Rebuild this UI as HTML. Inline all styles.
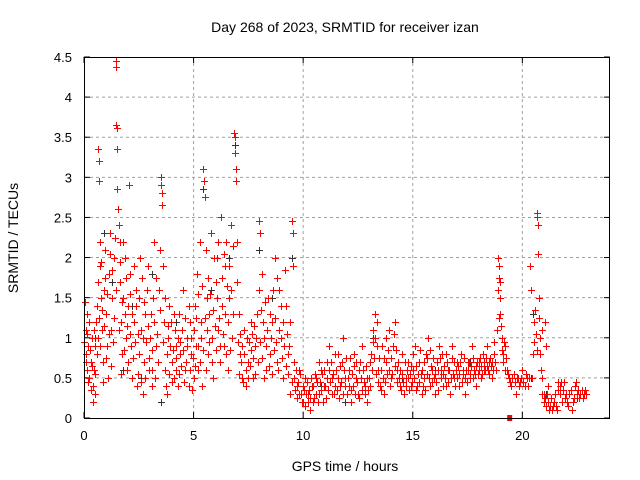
<!DOCTYPE html>
<html><head><meta charset="utf-8"><style>
body{margin:0;background:#fff;}
svg{display:block;font-family:"Liberation Sans",sans-serif;}
</style></head><body>
<svg id="chart" width="640" height="480"></svg>
<script>
const xTicks=[0,5,10,15,20];
const yTicks=[0,0.5,1,1.5,2,2.5,3,3.5,4,4.5];
const yTickLabels=["0","0.5","1","1.5","2","2.5","3","3.5","4","4.5"];
const redSamples=[
[0.05,1.45],[0.08,1.1],[0.1,0.8],[0.12,0.6],[0.15,1.3],[0.2,0.9],[0.25,0.5],[0.3,0.7],[0.35,1.0],[0.4,0.4],[0.42,0.2],[0.45,0.6],[0.5,0.9],[0.55,1.2],[0.6,0.8],
[0.65,3.35],[0.68,3.2],[0.7,2.95],[0.72,2.2],[0.75,1.9],[0.78,1.5],[0.8,1.1],[0.85,0.7],[0.9,1.6],[0.95,2.1],[1.0,1.3],[1.05,0.9],[1.1,0.5],[1.15,1.8],[1.2,2.3],[1.25,1.1],[1.3,1.5],[1.35,2.0],
[1.45,4.45],[1.47,4.38],[1.48,3.65],[1.5,3.62],[1.52,3.35],[1.5,2.85],[1.55,2.6],[1.6,2.4],[1.62,2.2],[1.65,1.7],[1.7,1.2],[1.75,0.8],[1.8,1.5],[1.85,2.0],[1.9,1.0],[1.95,0.6],[2.0,1.4],
[2.05,2.9],[2.1,1.8],[2.15,0.9],[2.2,0.5],[2.3,1.2],[2.35,1.6],[2.4,0.4],[2.5,0.8],[2.55,2.0],[2.6,1.1],[2.7,0.3],[2.75,0.7],[2.8,1.3],[2.9,1.9],[2.95,0.6],[3.0,1.0],[3.1,0.4],[3.15,1.5],[3.2,2.2],[3.3,0.9],[3.4,1.6],
[3.5,3.0],[3.52,2.9],[3.55,2.8],[3.58,2.65],[3.6,1.9],[3.65,1.2],[3.7,0.6],[3.8,0.3],[3.85,1.0],[3.9,1.4],[4.0,0.7],[4.1,0.5],[4.15,1.1],[4.2,0.9],[4.3,0.4],[4.35,1.3],[4.4,0.8],[4.5,1.6],[4.6,0.6],[4.7,1.0],[4.8,0.4],[4.85,1.2],[4.9,0.8],[5.0,0.5],[5.05,1.4],[5.1,0.9],[5.15,1.8],[5.2,0.6],[5.3,2.2],[5.35,1.2],[5.4,0.4],
[5.45,3.1],[5.48,2.95],[5.5,2.75],[5.55,2.1],[5.6,1.5],[5.65,0.8],[5.7,1.3],[5.8,2.3],[5.85,1.0],[5.9,0.5],[6.0,1.7],[6.05,2.0],[6.1,1.1],[6.2,0.7],[6.25,2.5],[6.3,1.4],[6.4,0.9],[6.45,1.9],[6.5,2.2],[6.55,0.6],[6.6,1.5],[6.7,2.4],[6.75,1.0],
[6.85,3.55],[6.88,3.5],[6.9,3.3],[6.92,3.1],[6.95,2.95],[7.0,2.2],[7.05,1.3],[7.1,0.8],[7.2,0.5],[7.3,1.1],[7.4,0.4],[7.5,0.7],[7.6,1.2],[7.7,0.5],[7.8,0.9],[7.9,1.3],
[8.0,2.45],[8.05,2.3],[8.1,1.8],[8.2,1.0],[8.3,0.6],[8.4,1.5],[8.5,0.8],[8.6,1.2],[8.7,2.0],[8.8,0.7],[8.9,1.6],[9.0,1.0],[9.1,0.5],[9.2,1.4],[9.3,0.8],[9.4,0.3],
[9.5,2.45],[9.52,2.3],[9.55,1.9],[9.6,0.7],[9.7,0.4],[9.8,0.6],[9.9,0.3],[10.0,0.2],[10.1,0.5],[10.2,0.3],[10.3,0.1],[10.4,0.4],[10.5,0.25],[10.6,0.5],[10.7,0.3],[10.8,0.6],[10.9,0.2],
[11.0,0.4],[11.1,0.7],[11.2,0.9],[11.3,0.5],[11.4,0.3],[11.5,0.6],[11.6,0.8],[11.7,0.4],[11.8,1.0],[11.9,0.5],[12.0,0.3],[12.1,0.6],[12.2,0.2],[12.3,0.8],[12.4,0.5],[12.5,0.3],[12.6,0.7],[12.7,0.9],[12.8,0.4],[12.9,0.2],
[13.0,0.5],[13.1,0.8],[13.2,1.1],[13.3,1.3],[13.35,1.2],[13.4,0.6],[13.5,0.4],[13.6,0.9],[13.7,0.3],[13.8,0.7],[13.9,1.1],[14.0,0.5],[14.1,0.9],[14.2,1.2],[14.3,0.6],[14.4,0.4],[14.5,0.8],[14.6,0.3],[14.7,0.5],[14.8,0.7],[14.9,0.4],
[15.0,0.6],[15.1,0.9],[15.2,0.4],[15.3,0.7],[15.4,0.3],[15.5,0.5],[15.6,0.8],[15.7,1.0],[15.8,0.4],[15.9,0.6],[16.0,0.3],[16.1,0.7],[16.2,0.9],[16.3,0.5],[16.4,0.4],[16.5,0.8],[16.6,0.6],[16.7,0.3],[16.8,0.9],[16.9,0.5],
[17.0,0.7],[17.1,0.4],[17.2,0.8],[17.3,0.6],[17.4,0.3],[17.5,0.7],[17.6,0.5],[17.7,0.9],[17.8,0.6],[17.9,0.4],[18.0,0.7],[18.1,0.5],[18.2,0.8],[18.3,0.6],[18.4,0.9],[18.5,0.7],[18.6,0.5],[18.7,0.8],[18.8,0.6],
[18.9,2.0],[18.92,1.9],[18.95,1.75],[18.97,1.5],[19.0,1.3],[19.05,1.0],[19.1,0.8],[19.2,0.9],[19.3,0.6],[19.4,0.5],[19.5,0.4],[19.6,0.55],[19.7,0.3],[19.8,0.5],[19.9,0.45],[20.0,0.6],[20.1,0.4],[20.2,0.5],
[20.35,1.9],[20.4,1.6],[20.5,0.8],[20.55,1.2],[20.65,2.55],[20.67,2.5],[20.7,2.4],[20.72,2.05],[20.75,1.5],[20.8,1.0],[20.85,0.6],[20.9,0.3],[21.0,0.2],[21.05,1.2],[21.1,0.9],[21.15,0.4],[21.2,0.1],
[21.3,0.25],[21.4,0.15],[21.5,0.3],[21.6,0.1],[21.7,0.4],[21.8,0.2],[21.9,0.45],[22.0,0.3],[22.1,0.15],[22.2,0.35],[22.3,0.2],[22.4,0.4],[22.5,0.3],[22.6,0.25],[22.7,0.35],[22.8,0.3]
];
const redSamplesExtra=[
[0.02,0.95],[0.07,0.7],[0.14,1.05],[0.18,0.45],[0.22,1.2],[0.28,0.85],[0.33,0.35],[0.38,0.65],[0.44,1.1],[0.48,0.3],[0.52,0.55],[0.58,1.4],[0.62,1.0],[0.66,1.7],[0.7,1.25],[0.74,0.9],[0.78,1.95],[0.83,1.35],[0.87,0.45],[0.92,1.15],[0.97,1.75],[1.02,0.75],[1.07,1.55],[1.12,1.05],[1.18,2.05],[1.22,0.65],[1.28,1.85],[1.33,0.95],[1.38,1.25],[1.42,2.25],[1.44,1.6],
[1.58,1.1],[1.63,1.95],[1.68,0.55],[1.72,1.45],[1.78,2.2],[1.83,0.85],[1.88,1.3],[1.92,1.75],[1.97,1.15],[2.02,0.7],[2.08,1.05],[2.12,1.55],[2.18,1.3],[2.25,0.75],[2.28,1.9],[2.33,0.95],[2.38,1.4],[2.45,1.05],[2.48,0.55],[2.52,1.5],[2.58,0.45],[2.63,1.75],[2.68,1.0],[2.72,1.45],[2.78,0.5],[2.83,0.95],[2.87,1.6],[2.93,1.15],[2.98,0.75],[3.05,1.3],[3.08,0.6],[3.12,0.85],[3.18,1.2],[3.25,0.5],[3.28,1.75],[3.35,1.05],[3.38,0.7],[3.45,1.35],[3.48,2.1],
[3.62,0.95],[3.68,1.5],[3.72,0.4],[3.77,0.8],[3.82,1.15],[3.88,0.55],[3.93,0.9],[3.97,1.2],[4.03,0.45],[4.07,0.85],[4.12,1.3],[4.18,0.6],[4.22,0.75],[4.27,1.0],[4.32,0.55],[4.38,0.95],[4.42,0.65],[4.47,1.1],[4.52,0.85],[4.57,0.45],[4.62,1.25],[4.67,0.7],[4.72,0.9],[4.77,1.4],[4.82,0.6],[4.88,1.0],[4.93,0.35],[4.97,0.75],
[5.02,1.1],[5.08,0.65],[5.12,1.25],[5.18,0.9],[5.22,1.55],[5.27,0.7],[5.32,1.0],[5.38,1.65],[5.42,0.85],[5.52,1.25],[5.58,0.6],[5.62,1.1],[5.68,1.75],[5.72,0.95],[5.77,1.55],[5.82,0.7],[5.88,1.35],[5.93,2.0],[5.97,1.15],[6.02,0.85],[6.08,1.5],[6.12,2.2],[6.17,1.25],[6.22,0.9],[6.28,1.75],[6.33,1.05],[6.37,2.05],[6.42,1.3],[6.48,0.8],[6.52,1.65],[6.58,1.2],[6.62,1.9],[6.68,0.85],[6.72,1.6],[6.78,2.15],[6.82,1.3],
[6.97,1.7],[7.02,0.95],[7.07,0.55],[7.12,1.05],[7.17,0.7],[7.22,0.9],[7.27,0.45],[7.32,0.8],[7.37,0.6],[7.42,1.0],[7.47,0.5],[7.52,0.95],[7.57,0.65],[7.62,0.85],[7.67,1.05],[7.72,0.75],[7.77,1.15],[7.82,0.55],[7.87,1.0],[7.92,0.7],[7.97,1.6],
[8.02,0.95],[8.07,1.35],[8.12,0.75],[8.17,1.2],[8.22,0.5],[8.27,1.45],[8.32,0.9],[8.37,1.1],[8.42,0.65],[8.47,1.3],[8.52,1.0],[8.57,0.55],[8.62,1.6],[8.67,0.85],[8.72,1.25],[8.77,0.95],[8.82,1.75],[8.87,0.6],[8.92,1.1],[8.97,1.4],[9.02,0.75],[9.07,1.2],[9.12,0.9],[9.17,1.85],[9.22,0.65],[9.27,1.05],[9.32,0.55],[9.37,0.9],[9.42,1.2],[9.47,0.45],
[9.58,0.5],[9.63,0.35],[9.68,0.6],[9.72,0.25],[9.77,0.45],[9.83,0.3],[9.87,0.55],[9.93,0.2],[9.97,0.4],[10.03,0.35],[10.07,0.15],[10.12,0.3],[10.17,0.45],[10.22,0.2],[10.27,0.35],[10.33,0.25],[10.37,0.5],[10.43,0.2],[10.47,0.4],[10.53,0.55],[10.57,0.3],[10.63,0.45],[10.67,0.2],[10.73,0.7],[10.77,0.45],[10.83,0.35],[10.87,0.55],[10.93,0.4],[10.97,0.6],
[11.03,0.25],[11.07,0.5],[11.13,0.35],[11.17,0.6],[11.23,0.45],[11.27,0.7],[11.33,0.3],[11.37,0.55],[11.43,0.4],[11.47,0.8],[11.53,0.35],[11.57,0.5],[11.63,0.25],[11.67,0.65],[11.73,0.45],[11.77,0.7],[11.83,0.3],[11.87,0.6],[11.93,0.4],[11.97,0.75],
[12.03,0.5],[12.07,0.4],[12.13,0.75],[12.17,0.35],[12.23,0.55],[12.27,0.4],[12.33,0.65],[12.37,0.3],[12.43,0.7],[12.47,0.45],[12.53,0.6],[12.57,0.25],[12.63,0.5],[12.67,0.35],[12.73,0.6],[12.77,0.45],[12.83,0.3],[12.87,0.65],[12.93,0.5],[12.97,0.35],
[13.03,0.7],[13.07,0.4],[13.13,0.6],[13.17,0.95],[13.23,0.75],[13.27,1.0],[13.33,0.55],[13.38,0.9],[13.43,0.45],[13.47,0.75],[13.53,0.6],[13.57,0.35],[13.63,0.5],[13.67,0.75],[13.73,0.45],[13.77,1.0],[13.83,0.55],[13.87,0.85],[13.93,0.6],[13.97,0.4],
[14.03,0.75],[14.07,0.55],[14.13,1.05],[14.17,0.65],[14.23,0.85],[14.27,0.45],[14.33,0.7],[14.37,0.5],[14.43,0.6],[14.47,0.35],[14.53,0.55],[14.57,0.45],[14.63,0.7],[14.67,0.4],[14.73,0.6],[14.77,0.5],[14.83,0.35],[14.87,0.55],[14.93,0.65],[14.97,0.45],
[15.03,0.8],[15.07,0.5],[15.13,0.65],[15.17,0.35],[15.23,0.55],[15.27,0.45],[15.33,0.85],[15.37,0.55],[15.43,0.6],[15.47,0.4],[15.53,0.7],[15.57,0.35],[15.63,0.55],[15.67,0.75],[15.73,0.5],[15.77,0.85],[15.83,0.65],[15.87,0.45],[15.93,0.75],[15.97,0.5],
[16.03,0.55],[16.07,0.45],[16.13,0.6],[16.17,0.35],[16.23,0.75],[16.27,0.6],[16.33,0.8],[16.37,0.55],[16.43,0.65],[16.47,0.5],[16.53,0.4],[16.57,0.7],[16.63,0.45],[16.67,0.6],[16.73,0.5],[16.77,0.75],[16.83,0.55],[16.87,0.7],[16.93,0.4],[16.97,0.6],
[17.03,0.5],[17.07,0.65],[17.13,0.55],[17.17,0.7],[17.23,0.45],[17.27,0.55],[17.33,0.75],[17.37,0.5],[17.43,0.6],[17.47,0.45],[17.53,0.6],[17.57,0.7],[17.63,0.55],[17.67,0.65],[17.73,0.5],[17.77,0.75],[17.83,0.55],[17.87,0.65],[17.93,0.7],[17.97,0.55],
[18.03,0.6],[18.07,0.75],[18.13,0.65],[18.17,0.55],[18.23,0.7],[18.27,0.6],[18.33,0.75],[18.37,0.65],[18.43,0.6],[18.47,0.55],[18.53,0.75],[18.57,0.65],[18.63,0.7],[18.67,0.6],[18.73,0.95],[18.77,0.7],[18.83,1.1],[18.87,1.6],[18.93,1.25],[18.98,1.7],[19.02,1.15],[19.07,0.85],
[19.13,0.7],[19.17,0.95],[19.23,0.6],[19.27,0.75],[19.33,0.55],[19.45,0.45],[19.55,0.5],[19.65,0.45],[19.75,0.5],[19.85,0.4],[19.95,0.5],[20.05,0.45],[20.15,0.55],[20.25,0.4],[20.3,0.5],[20.45,0.5],[20.52,0.95],[20.58,1.35],[20.62,1.05],[20.68,0.85],[20.78,1.25],[20.82,0.8],[20.88,1.1],[20.92,0.5],[20.97,0.3],
[21.02,0.25],[21.08,0.15],[21.13,0.3],[21.18,0.2],[21.25,0.15],[21.35,0.1],[21.45,0.2],[21.55,0.15],[21.62,0.45],[21.65,0.35],[21.72,0.3],[21.75,0.45],[21.85,0.35],[21.95,0.25],[22.05,0.2],[22.15,0.3],[22.25,0.1],[22.35,0.25],[22.45,0.45],[22.55,0.35],[22.65,0.3],[22.75,0.25],[22.85,0.35],[22.9,0.3]
];
const blackSamples=[
[0.5,1.0],[0.9,2.3],[1.3,1.7],[1.8,0.6],[2.2,1.4],[2.6,0.5],[3.1,1.8],[3.5,0.2],[4.2,1.2],[5.45,2.85],[5.8,1.6],[6.6,2.0],[6.88,3.4],[7.2,0.9],[8.0,2.1],[8.6,1.5],[9.5,2.0],[10.8,0.4],[11.9,0.2],[13.2,1.0],[14.5,0.5],[16.0,0.6],[17.6,0.7],[18.9,1.6],[19.0,1.5],[20.4,0.5],[20.5,1.3],[21.1,0.3],[22.5,0.25]
];
const markerSamples=[[19.4,0]];

const NS="http://www.w3.org/2000/svg";
const svg=document.getElementById('chart');
const L=84,R=610,T=57,B=418,XMAX=24,YMAX=4.5;
const xs=t=>L+t/XMAX*(R-L);
const ys=v=>B-v/YMAX*(B-T);
function mk(tag,attrs,parent){const e=document.createElementNS(NS,tag);for(const k in attrs)e.setAttribute(k,attrs[k]);(parent||svg).appendChild(e);return e;}

const grid=mk('g',{});


xTicks.forEach(t=>{
  if(t>0){const g=mk('line',{x1:xs(t),x2:xs(t),y1:T,y2:B,stroke:'#a0a0a0','stroke-dasharray':'3,3'},grid);
  }
  const tk=mk('line',{x1:xs(t),x2:xs(t),y1:B,y2:B-6,stroke:'#000'});
  
  const tk2=mk('line',{x1:xs(t),x2:xs(t),y1:T,y2:T+6,stroke:'#000'});
  
  const lb=mk('text',{x:xs(t),y:B+22,'text-anchor':'middle','font-size':'13'});
  lb.textContent=t;
});
yTicks.forEach((v,i)=>{
  if(v>0&&v<YMAX){const g=mk('line',{x1:L,x2:R,y1:ys(v),y2:ys(v),stroke:'#a0a0a0','stroke-dasharray':'3,3'},grid);
  }
  const tk=mk('line',{x1:L,x2:L+6,y1:ys(v),y2:ys(v),stroke:'#000'});
  
  const tk2=mk('line',{x1:R,x2:R-6,y1:ys(v),y2:ys(v),stroke:'#000'});
  
  const lb=mk('text',{x:L-12,y:ys(v)+5,'text-anchor':'end','font-size':'13'});
  lb.textContent=yTickLabels[i];
});

function plus(t,v,color,name){
  const x=Math.round(xs(t))+0.5,y=Math.round(ys(v))+0.5;
  const p=mk('path',{d:`M${x-3.5},${y}H${x+3.5}M${x},${y-3.5}V${y+3.5}`,stroke:color,'stroke-width':1,fill:'none'});
  
  
}
blackSamples.forEach(d=>plus(d[0],d[1],'#333','black-point'));
redSamples.forEach(d=>plus(d[0],d[1],'#ff0000','red-point'));
redSamplesExtra.forEach(d=>plus(d[0],d[1],'#ff0000','red-point'));
markerSamples.forEach(d=>{
  const r=mk('rect',{x:xs(d[0])-2,y:ys(d[1])-3,width:5,height:6,fill:'#ff0000'});
  
});

const frame=mk('rect',{x:L+0.5,y:T+0.5,width:R-L-1,height:B-T,fill:'none',stroke:'#000'});


const title=mk('text',{x:345,y:32,'text-anchor':'middle','font-size':'14'});
title.textContent='Day 268 of 2023, SRMTID for receiver izan';

const xl=mk('text',{x:345,y:471,'text-anchor':'middle','font-size':'14'});
xl.textContent='GPS time / hours';

const yl=mk('text',{x:0,y:0,'text-anchor':'middle','font-size':'14',transform:'translate(18,238) rotate(-90)'});
yl.textContent='SRMTID / TECUs';

</script>
</body></html>
